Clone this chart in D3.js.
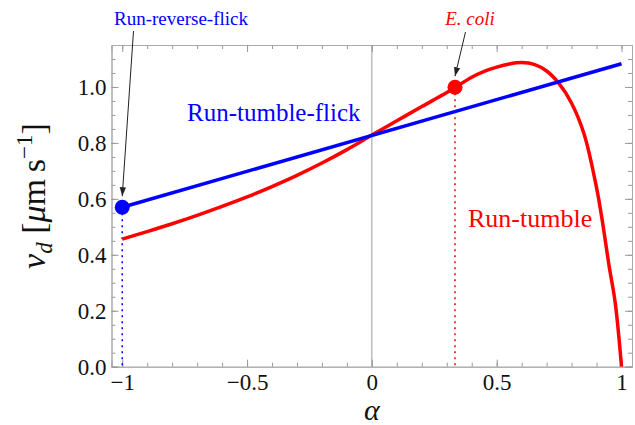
<!DOCTYPE html>
<html>
<head>
<meta charset="utf-8">
<script src="https://cdn.jsdelivr.net/npm/d3@7"></script>
<style>
  body { margin: 0; background: #fff; }
  svg { display: block; font-family: "Liberation Serif", "Times New Roman", serif; }
  .frame .domain { stroke: #aaa; }
  .frame line { stroke: #999; }
  .frame text { fill: #111; font-size: 23px; font-family: "Liberation Serif", serif; }
</style>
</head>
<body>
<svg id="chart" width="635" height="425"></svg>
<script>
// run-tumble drift speed
var alphaRed = [-1.0, -0.9, -0.8, -0.7, -0.6, -0.5, -0.4, -0.3, -0.2, -0.1, 0.0,
                0.1, 0.2, 0.3, 0.4, 0.45, 0.5, 0.55, 0.6, 0.65, 0.7, 0.75,
                0.8, 0.85, 0.9, 0.925, 0.95, 0.975, 1.0];
var vRed = [0.456, 0.483, 0.511, 0.541, 0.573, 0.607, 0.644, 0.684, 0.728, 0.776, 0.828,
            0.879, 0.930, 0.980, 1.035, 1.056, 1.071, 1.082, 1.087, 1.081, 1.057, 1.012,
            0.942, 0.832, 0.640, 0.510, 0.362, 0.227, 0.0];

// run-tumble-flick is a straight line
var alphaBlue = [-1.0, 1.0];
var vBlue = [0.570, 1.083];

// marked points
var markAlpha = [-1.0, 0.333];
var markV = [0.570, 0.999];
var markColor = ["#0000ff", "#ff0000"];

var xTicks = [-1, -0.5, 0, 0.5, 1];
var xTickLabels = ["\u22121", "\u22120.5", "0", "0.5", "1"];
var yTicks = [0, 0.2, 0.4, 0.6, 0.8, 1.0];
var yTickLabels = ["0.0", "0.2", "0.4", "0.6", "0.8", "1.0"];

var plotLeft = 111.5, plotRight = 632, plotTop = 45, plotBottom = 366.7;

var x = d3.scaleLinear().domain([-1.043, 1.042]).range([plotLeft, plotRight]);
var y = d3.scaleLinear().domain([0, 1.15]).range([plotBottom, plotTop]);

var svg = d3.select("#chart");

var xMinor = d3.range(-10, 11).map(function(i) { return i / 10; });
var yMinor = d3.range(0, 23).map(function(i) { return i / 20; });

// minor ticks (all four sides, inward)
svg.append("g").attr("class", "frame")
    .attr("transform", "translate(0," + plotBottom + ")")
    .call(d3.axisBottom(x).tickValues(xMinor).tickSize(-4).tickFormat(""));
svg.append("g").attr("class", "frame")
    .attr("transform", "translate(0," + plotTop + ")")
    .call(d3.axisTop(x).tickValues(xMinor).tickSize(-4).tickFormat(""));
svg.append("g").attr("class", "frame")
    .attr("transform", "translate(" + plotLeft + ",0)")
    .call(d3.axisLeft(y).tickValues(yMinor).tickSize(-4).tickFormat(""));
svg.append("g").attr("class", "frame")
    .attr("transform", "translate(" + plotRight + ",0)")
    .call(d3.axisRight(y).tickValues(yMinor).tickSize(-4).tickFormat(""));

// major ticks with labels
svg.append("g").attr("class", "frame")
    .attr("transform", "translate(0," + plotBottom + ")")
    .call(d3.axisBottom(x).tickValues(xTicks).tickSize(-7).tickPadding(7)
        .tickFormat(function(d, i) { return xTickLabels[i]; }));
svg.append("g").attr("class", "frame")
    .attr("transform", "translate(" + plotLeft + ",0)")
    .call(d3.axisLeft(y).tickValues(yTicks).tickSize(-7).tickPadding(5)
        .tickFormat(function(d, i) { return yTickLabels[i]; }));
svg.append("g").attr("class", "frame")
    .attr("transform", "translate(0," + plotTop + ")")
    .call(d3.axisTop(x).tickValues(xTicks).tickSize(-7).tickFormat(""));
svg.append("g").attr("class", "frame")
    .attr("transform", "translate(" + plotRight + ",0)")
    .call(d3.axisRight(y).tickValues(yTicks).tickSize(-7).tickFormat(""));

// vertical line at alpha = 0
svg.append("line")
    .attr("x1", x(0)).attr("x2", x(0))
    .attr("y1", plotBottom).attr("y2", plotTop)
    .attr("stroke", "#999").attr("stroke-width", 1);

// dotted drop lines
svg.selectAll(".drop")
    .data(markAlpha)
    .enter().append("line")
    .attr("class", "drop")
    .attr("x1", function(d) { return x(d); })
    .attr("x2", function(d) { return x(d); })
    .attr("y1", function(d, i) { return y(markV[i]); })
    .attr("y2", plotBottom)
    .attr("stroke", function(d, i) { return markColor[i]; })
    .attr("stroke-width", 1.5)
    .attr("stroke-dasharray", "2,4");

var line = d3.line()
    .x(function(d) { return x(d[0]); })
    .y(function(d) { return y(d[1]); });

var redPts = alphaRed.map(function(a, i) { return [a, vRed[i]]; });
var bluePts = alphaBlue.map(function(a, i) { return [a, vBlue[i]]; });

svg.append("path")
    .attr("d", line.curve(d3.curveCatmullRom.alpha(0.5))(redPts))
    .attr("fill", "none")
    .attr("stroke", "#ff0000")
    .attr("stroke-width", 3.5);

svg.append("path")
    .attr("d", line.curve(d3.curveLinear)(bluePts))
    .attr("fill", "none")
    .attr("stroke", "#0000ff")
    .attr("stroke-width", 3.5);

svg.selectAll(".mark")
    .data(markAlpha)
    .enter().append("circle")
    .attr("class", "mark")
    .attr("cx", function(d) { return x(d); })
    .attr("cy", function(d, i) { return y(markV[i]); })
    .attr("r", 7.5)
    .attr("fill", function(d, i) { return markColor[i]; });

// arrows
svg.append("defs").append("marker")
    .attr("id", "head")
    .attr("viewBox", "0 0 10 10")
    .attr("refX", 10).attr("refY", 5)
    .attr("markerWidth", 9).attr("markerHeight", 9)
    .attr("markerUnits", "userSpaceOnUse")
    .attr("orient", "auto")
    .append("path")
    .attr("d", "M0,1.5 L10,5 L0,8.5 Z")
    .attr("fill", "#222");

svg.append("line")
    .attr("x1", 133.5).attr("y1", 31)
    .attr("x2", x(markAlpha[0])).attr("y2", y(markV[0]) - 11)
    .attr("stroke", "#222").attr("stroke-width", 1)
    .attr("marker-end", "url(#head)");

svg.append("line")
    .attr("x1", 465.5).attr("y1", 32)
    .attr("x2", x(markAlpha[1])).attr("y2", y(markV[1]) - 11)
    .attr("stroke", "#222").attr("stroke-width", 1)
    .attr("marker-end", "url(#head)");

// text labels
svg.append("text")
    .attr("x", 114).attr("y", 25)
    .attr("fill", "#0000ff").attr("font-size", 19)
    .text("Run-reverse-flick");

svg.append("text")
    .attr("x", 470).attr("y", 25)
    .attr("text-anchor", "middle")
    .attr("fill", "#ff0000").attr("font-size", 19).attr("font-style", "italic")
    .text("E. coli");

svg.append("text")
    .attr("x", 187).attr("y", 121)
    .attr("fill", "#0000ff").attr("font-size", 25)
    .text("Run-tumble-flick");

svg.append("text")
    .attr("x", 468).attr("y", 227)
    .attr("fill", "#ff0000").attr("font-size", 26)
    .text("Run-tumble");

// axis titles
svg.append("text")
    .attr("x", x(0)).attr("y", 420)
    .attr("text-anchor", "middle")
    .attr("font-size", 30).attr("font-style", "italic")
    .attr("fill", "#111")
    .text("\u03b1");

var yl = svg.append("text")
    .attr("transform", "translate(45,196) rotate(-90)")
    .attr("text-anchor", "middle")
    .attr("font-size", 34)
    .attr("fill", "#111");
yl.append("tspan").attr("font-style", "italic").text("v");
yl.append("tspan").attr("font-style", "italic").attr("font-size", 23).attr("dy", 7).text("d");
yl.append("tspan").attr("dy", -7).text(" [");
yl.append("tspan").attr("font-style", "italic").text("\u03bc");
yl.append("tspan").text("m\u2009s");
yl.append("tspan").attr("font-size", 23).attr("dy", -13).text("\u22121");
yl.append("tspan").attr("dy", 13).text("]");
</script>
</body>
</html>
